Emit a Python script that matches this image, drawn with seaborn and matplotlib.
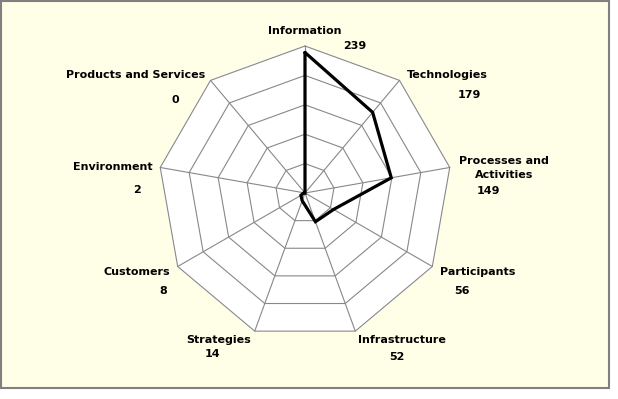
import numpy as np
import pandas as pd
import matplotlib
matplotlib.use("Agg")
import matplotlib.pyplot as plt
import seaborn as sns
from matplotlib.patches import Rectangle

# ---- data ----
categories = ["Information", "Technologies", "Processes and\nActivities", "Participants",
              "Infrastructure", "Strategies", "Customers", "Environment",
              "Products and Services"]
values = [239, 179, 149, 56, 52, 14, 8, 2, 0]
ring_levels = [50, 100, 150, 200, 250]
value_labels = [str(v) for v in values]

sns.set_theme(style="white")
plt.rcParams['font.family'] = ['DejaVu Sans']

W, H = 618, 399
fig = plt.figure(figsize=(W / 100, H / 100), dpi=100)
fig.patch.set_facecolor("white")

# chart area background + frame
fig.patches.append(Rectangle((0.75 / W, 11 / H), 608.5 / W, (388 - 0.75) / H,
                             transform=fig.transFigure, facecolor="#FFFFE8",
                             edgecolor="#808080", linewidth=1.5, zorder=-10))

ax = fig.add_axes([0, 0, 1, 1])
ax.set_facecolor("none")
rmax = max(ring_levels)
s = 147 / rmax          # pixels per unit
cx, cy = 305, 193       # centre in image pixels
ax.set_xlim(-cx / s, (W - cx) / s)
ax.set_ylim(-(H - cy) / s, cy / s)
ax.axis("off")

n = len(categories)
theta = 2 * np.pi * np.arange(n) / n
sx, cyv = np.sin(theta), np.cos(theta)

def closed(a):
    return np.append(a, a[0])

# white plot area
ax.fill(closed(rmax * sx), closed(rmax * cyv), color="white", zorder=1)
# rings
for r in ring_levels:
    ax.plot(closed(r * sx), closed(r * cyv), color="#888888", lw=0.8, zorder=2)
# spokes
for i in range(n):
    ax.plot([0, rmax * sx[i]], [0, rmax * cyv[i]], color="#888888", lw=0.8, zorder=2)

# data polygon
v = np.array(values, dtype=float)
df = pd.DataFrame({"x": closed(v * sx), "y": closed(v * cyv)})
sns.lineplot(data=df, x="x", y="y", sort=False, estimator=None, color="black",
             lw=2.3, ax=ax, zorder=3)
for l in ax.lines[-1:]:
    l.set_solid_joinstyle("miter")
ax.set_xlim(-cx / s, (W - cx) / s)
ax.set_ylim(-(H - cy) / s, cy / s)
ax.axis("off")

# labels
cat_off = [(0, -15), (47.5, -5.4), (54, 0.5), (45.7, 5.5), (47, 9),
           (-35.7, 9), (-41, 5), (-47, 0), (-75, -5)]
val_off = [(50, 0), (69.5, 14.6), (39, 23.5), (29.7, 24.5), (41.7, 26),
           (-42.7, 23), (-14.7, 24), (-23.5, 23), (-35.5, 20)]
for i in range(n):
    vx, vy = rmax * sx[i], rmax * cyv[i]
    ax.annotate(categories[i], (vx, vy), xytext=(cat_off[i][0], -cat_off[i][1]),
                textcoords="offset pixels", ha="center", va="center",
                fontsize=8, fontweight="bold", color="black", linespacing=1.5,
                multialignment="center")
    ax.annotate(value_labels[i], (vx, vy), xytext=(val_off[i][0], -val_off[i][1]),
                textcoords="offset pixels", ha="center", va="center",
                fontsize=8, fontweight="bold", color="black")

fig.savefig("out.png", dpi=100, facecolor="white")
